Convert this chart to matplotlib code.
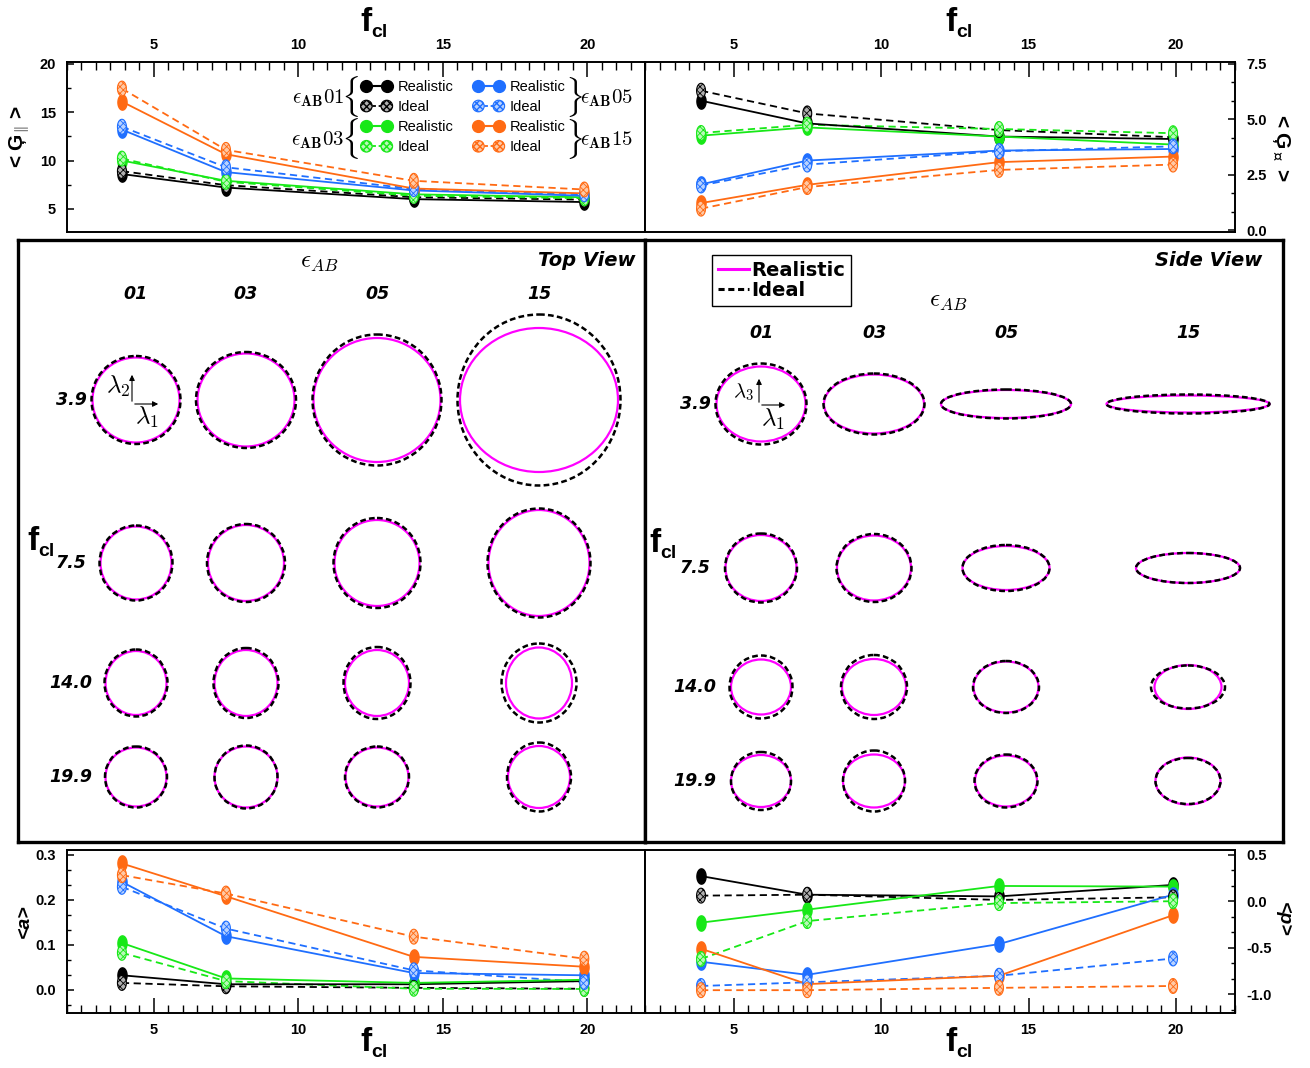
import numpy as np
import matplotlib

matplotlib.use("Agg")
import matplotlib.pyplot as plt
from matplotlib import font_manager
from matplotlib.legend_handler import HandlerTuple
from matplotlib.lines import Line2D
from matplotlib.patches import Ellipse, FancyArrowPatch
from matplotlib.path import Path
from matplotlib.ticker import AutoMinorLocator, MultipleLocator

FIG_W, FIG_H = 1310, 1068

_names = {f.name for f in font_manager.fontManager.ttflist}
NARROW = "Liberation Sans Narrow" in _names
SANS = "Liberation Sans Narrow" if NARROW else "Liberation Sans"

plt.rcParams["font.family"] = [SANS, "DejaVu Sans"]
plt.rcParams["font.weight"] = "bold"
plt.rcParams["mathtext.fontset"] = "cm"
plt.rcParams["axes.linewidth"] = 1.4

# ---- data -----------------------------------------------------------------
F_CL = [3.9, 7.5, 14.0, 19.9]
EPS_AB = ["01", "03", "05", "15"]
F_CL_LABELS = ["3.9", "7.5", "14.0", "19.9"]

# <G_par>, rows = eps_AB 01, 03, 05, 15
G_PAR_REAL = [[8.6, 7.2, 6.0, 5.7], [10.0, 7.9, 6.5, 6.2],
              [13.2, 8.8, 6.9, 6.35], [16.1, 10.65, 7.1, 6.6]]
G_PAR_IDEAL = [[8.9, 7.45, 6.2, 5.95], [10.2, 7.8, 6.35, 6.1],
               [13.5, 9.3, 7.05, 6.5], [17.45, 11.1, 7.9, 7.0]]
# <G_perp>
G_PERP_REAL = [[5.83, 4.81, 4.22, 4.11], [4.26, 4.63, 4.22, 3.86],
               [2.07, 3.14, 3.59, 3.66], [1.23, 2.05, 3.07, 3.32]]
G_PERP_IDEAL = [[6.28, 5.26, 4.51, 4.19], [4.38, 4.75, 4.56, 4.37],
                [2.02, 2.96, 3.56, 3.78], [0.98, 1.95, 2.72, 2.96]]
# <a>
A_REAL = [[0.032, 0.012, 0.012, 0.019], [0.104, 0.025, 0.015, 0.022],
          [0.24, 0.119, 0.037, 0.032], [0.281, 0.208, 0.073, 0.051]]
A_IDEAL = [[0.015, 0.0075, 0.004, 0.002], [0.082, 0.019, 0.002, 0.0015],
           [0.229, 0.136, 0.043, 0.017], [0.255, 0.214, 0.118, 0.069]]
# <p>
P_REAL = [[0.27, 0.07, 0.052, 0.175], [-0.23, -0.09, 0.164, 0.157],
          [-0.65, -0.79, -0.46, 0.07], [-0.51, -0.89, -0.80, -0.15]]
P_IDEAL = [[0.06, 0.07, 0.014, 0.042], [-0.62, -0.213, -0.02, 0.0],
           [-0.91, -0.87, -0.80, -0.615], [-0.955, -0.955, -0.93, -0.91]]

# ellipse axes (arbitrary units), rows = f_cl, cols = eps_AB
TOP_REAL_W = [[87, 97, 127, 158], [71, 76, 85, 101], [61, 63, 64, 66], [61, 63, 63, 62]]
TOP_REAL_H = [[85, 93, 124, 144], [73, 76, 86, 106], [64, 66, 66, 71], [59, 61, 59, 62]]
TOP_IDEAL_W = [[89, 100, 129, 163], [73, 78, 87, 103], [63, 65, 67, 75], [62, 63, 64, 64]]
TOP_IDEAL_H = [[88, 96, 131, 171], [75, 78, 90, 109], [67, 70, 72, 79], [61, 63, 61, 69]]

SIDE_REAL_W = [[89, 100, 130, 163], [71, 74, 87, 104], [60, 64, 65, 67], [60, 62, 62, 65]]
SIDE_REAL_H = [[75, 59, 28, 17], [66, 65, 44, 30], [55, 56, 51, 44], [52, 53, 51, 47]]
SIDE_IDEAL_W = [[91, 101, 130, 163], [72, 75, 87, 104], [63, 66, 66, 74], [60, 62, 63, 65]]
SIDE_IDEAL_H = [[81, 61, 29, 19], [69, 68, 46, 30], [63, 64, 52, 43], [58, 61, 53, 46]]

# ---- style / layout -------------------------------------------------------
COLORS = ["#000000", "#17e817", "#1f6fff", "#ff6a13"]
LIGHT = ["#b0b0b0", "#b8f8b8", "#b8d2ff", "#ffc9a6"]
MAGENTA = "#ff00ff"

TOP_COL_X = [136, 246, 377, 539]
TOP_ROW_Y = [400, 563, 683, 777]
SIDE_COL_X = [761, 874, 1006, 1188]
SIDE_ROW_Y = [404, 568, 687, 781]

_t = np.linspace(0, 2 * np.pi, 41)
ELL = Path(np.column_stack([0.6 * np.cos(_t), np.sin(_t)]), closed=True)
HATCH = "xxxxx"


def px(x, y):
    return x / FIG_W, 1 - y / FIG_H


def rect(x0, y0, x1, y1):
    return [x0 / FIG_W, 1 - y1 / FIG_H, (x1 - x0) / FIG_W, (y1 - y0) / FIG_H]


def fcl_label(fig, x, y, big=24, small=14):
    fig.text(*px(x, y), "f", fontsize=big, ha="right", va="baseline")
    fig.text(*px(x - 1, y + 6), "cl", fontsize=small, ha="left", va="baseline")


def draw_series(ax, real, ideal):
    for k, c in enumerate(COLORS):
        ax.plot(F_CL, ideal[k], color=c, lw=1.3, ls=(0, (4, 2.5)), zorder=2)
        ax.plot(F_CL, real[k], color=c, lw=1.3, marker=ELL, ms=11,
                mfc=c, mec=c, zorder=3)
        with plt.rc_context({"hatch.color": c, "hatch.linewidth": 0.6}):
            ax.scatter(F_CL, ideal[k], s=115, marker=ELL, facecolor=LIGHT[k],
                       edgecolor=c, linewidth=0.8, hatch=HATCH, zorder=4)


def style_axis(ax, ylim, ymajor, nminor, xtop, yright):
    ax.set_xlim(2, 22)
    ax.set_ylim(*ylim)
    ax.xaxis.set_major_locator(MultipleLocator(5))
    ax.xaxis.set_minor_locator(MultipleLocator(0.5))
    ax.yaxis.set_major_locator(MultipleLocator(ymajor))
    ax.yaxis.set_minor_locator(AutoMinorLocator(nminor))
    ax.tick_params(axis="x", which="major", direction="in", length=11, width=1.1,
                   labelsize=10.5, pad=7, top=xtop, bottom=not xtop,
                   labeltop=xtop, labelbottom=not xtop)
    ax.tick_params(axis="x", which="minor", direction="in", length=5.5, width=1.0,
                   top=xtop, bottom=not xtop)
    ax.tick_params(axis="y", which="major", direction="in", length=5, width=1.1,
                   labelsize=10.5, pad=8, left=not yright, right=yright,
                   labelleft=not yright, labelright=yright)
    ax.tick_params(axis="y", which="minor", direction="in", length=3, width=1.0,
                   left=not yright, right=yright)


def draw_view(ax, x0, y0, x1, y1, cols, rows, rw, rh, iw, ih):
    ax.set_xlim(x0, x1)
    ax.set_ylim(y1, y0)
    ax.set_xticks([])
    ax.set_yticks([])
    for s in ax.spines.values():
        s.set_linewidth(2.4)
    for i, cy in enumerate(rows):
        for j, cx in enumerate(cols):
            ax.add_patch(Ellipse((cx, cy), rw[i][j], rh[i][j], fill=False,
                                 ec=MAGENTA, lw=1.6, zorder=2))
            ax.add_patch(Ellipse((cx, cy), iw[i][j], ih[i][j], fill=False,
                                 ec="black", lw=1.8, ls=(0, (2.3, 1.3)), zorder=3))


def arrows(ax, cx, cy, up, right):
    for end in [(cx, cy - up), (cx + right, cy)]:
        ax.add_patch(FancyArrowPatch((cx, cy), end, arrowstyle="-|>",
                                     mutation_scale=8, lw=0.8, color="black", zorder=5))


fig = plt.figure(figsize=(FIG_W / 100, FIG_H / 100), dpi=100)

# ---- top panels -----------------------------------------------------------
ax_gpar = fig.add_axes(rect(67, 62, 645, 232))
draw_series(ax_gpar, G_PAR_REAL, G_PAR_IDEAL)
style_axis(ax_gpar, (2.6, 20.2), 5, 2, True, False)

ax_gperp = fig.add_axes(rect(645, 62, 1235, 232))
draw_series(ax_gperp, G_PERP_REAL, G_PERP_IDEAL)
style_axis(ax_gperp, (-0.07, 7.57), 2.5, 3, True, True)
ax_gperp.yaxis.set_major_formatter(lambda v, p: f"{v:.1f}")

# ---- bottom panels --------------------------------------------------------
ax_a = fig.add_axes(rect(67, 850, 645, 1013))
draw_series(ax_a, A_REAL, A_IDEAL)
style_axis(ax_a, (-0.052, 0.311), 0.1, 3, False, False)
ax_a.yaxis.set_major_formatter(lambda v, p: f"{v:.1f}")

ax_p = fig.add_axes(rect(645, 850, 1235, 1013))
draw_series(ax_p, P_REAL, P_IDEAL)
style_axis(ax_p, (-1.2, 0.55), 0.5, 3, False, True)
ax_p.yaxis.set_major_formatter(lambda v, p: f"{v:.1f}")

# legend of the top-left panel
handles, labels = [], []
for k, c in enumerate(COLORS):
    handles.append(Line2D([], [], color=c, lw=1.5, marker="o", ms=8.5, mfc=c, mec=c))
    labels.append("Realistic")
    dash = Line2D([], [], color=c, lw=1.3, ls=(0, (2, 1.5)))
    with plt.rc_context({"hatch.color": c, "hatch.linewidth": 0.6}):
        sc = ax_gpar.scatter([], [], s=70, marker="o", facecolor=LIGHT[k],
                             edgecolor=c, linewidth=0.8, hatch=HATCH)
    handles.append((dash, sc))
    labels.append("Ideal")
fig.legend(handles, labels, ncol=2, loc="upper left", bbox_to_anchor=px(362, 80),
           frameon=False, prop={"family": SANS, "weight": "normal",
                                "size": 11.5 if NARROW else 10.5},
           handlelength=2.0, handletextpad=0.45, columnspacing=1.4,
           labelspacing=0.42, borderpad=0, borderaxespad=0, numpoints=2,
           scatterpoints=2, scatteryoffsets=[0.5],
           handler_map={tuple: HandlerTuple(ndivide=1, pad=0)})

for (y, eps) in [(98, "01"), (140, "03")]:
    fig.text(*px(344, y), r"$\epsilon_{\mathbf{AB}}\mathbf{" + eps + "}$",
             fontsize=15, ha="right", va="center")
    fig.text(*px(350, y - 1), r"$\{$", fontsize=24, ha="center", va="center")
for (y, eps) in [(98, "05"), (140, "15")]:
    fig.text(*px(574, y - 1), r"$\}$", fontsize=24, ha="center", va="center")
    fig.text(*px(580, y), r"$\epsilon_{\mathbf{AB}}\mathbf{" + eps + "}$",
             fontsize=15, ha="left", va="center")

# axis titles
fcl_label(fig, 372, 31)
fcl_label(fig, 957, 31)
fcl_label(fig, 372, 1051)
fcl_label(fig, 957, 1051)
fig.text(*px(20, 137), r"< Ģ$_{\Vert}$ >", fontsize=15, rotation=90,
         ha="center", va="center")
fig.text(*px(1281, 148), r"< Ģ$_{\perp}$ >", fontsize=15, rotation=270,
         ha="center", va="center")
fig.text(*px(24, 921), "<a>", fontsize=14, style="italic", rotation=90,
         ha="center", va="center")
fig.text(*px(1283, 919), "<p>", fontsize=14, style="italic", rotation=270,
         ha="center", va="center")

# ---- middle boxes ---------------------------------------------------------
ax_tv = fig.add_axes(rect(18, 240, 645, 842))
draw_view(ax_tv, 18, 240, 645, 842, TOP_COL_X, TOP_ROW_Y,
          TOP_REAL_W, TOP_REAL_H, TOP_IDEAL_W, TOP_IDEAL_H)
ax_sv = fig.add_axes(rect(645, 240, 1283, 842))
draw_view(ax_sv, 645, 240, 1283, 842, SIDE_COL_X, SIDE_ROW_Y,
          SIDE_REAL_W, SIDE_REAL_H, SIDE_IDEAL_W, SIDE_IDEAL_H)

arrows(ax_tv, TOP_COL_X[0] - 4, TOP_ROW_Y[0] + 4, 32, 29)
ax_tv.text(TOP_COL_X[0] - 18, TOP_ROW_Y[0] - 14, r"$\lambda_2$", fontsize=18,
           ha="center", va="center")
ax_tv.text(TOP_COL_X[0] + 11, TOP_ROW_Y[0] + 17, r"$\lambda_1$", fontsize=18,
           ha="center", va="center")
arrows(ax_sv, SIDE_COL_X[0] - 2, SIDE_ROW_Y[0] + 1, 29, 29)
ax_sv.text(SIDE_COL_X[0] - 18, SIDE_ROW_Y[0] - 12, r"$\lambda_3$", fontsize=15,
           ha="center", va="center")
ax_sv.text(SIDE_COL_X[0] + 12, SIDE_ROW_Y[0] + 15, r"$\mathbf{\lambda_1}$",
           fontsize=18, ha="center", va="center")

VIEW_FONT = dict(family="DejaVu Sans", weight="bold", style="italic")
for ax, cols, col_y, rows, row_x, eps_xy, title_x, title in [
    (ax_tv, TOP_COL_X, 294, TOP_ROW_Y, 71, (319, 262), 635, "Top View"),
    (ax_sv, SIDE_COL_X, 333, SIDE_ROW_Y, 695, (948, 301), 1262, "Side View"),
]:
    ax.text(*eps_xy, r"$\epsilon_{AB}$", fontsize=18, ha="center", va="center")
    ax.text(title_x, 260, title, fontsize=14, ha="right", va="center", **VIEW_FONT)
    for cx, lab in zip(cols, EPS_AB):
        ax.text(cx, col_y, lab, fontsize=12.5, ha="center", va="center", **VIEW_FONT)
    for cy, lab in zip(rows, F_CL_LABELS):
        ax.text(row_x, cy, lab, fontsize=12.5, ha="center", va="center", **VIEW_FONT)

fcl_label(fig, 39, 550)
fcl_label(fig, 661, 552)

view_handles = [Line2D([], [], color=MAGENTA, lw=2.2),
                Line2D([], [], color="black", lw=2.2, ls=(0, (2, 1.2)))]
ax_sv.legend(view_handles, ["Realistic", "Ideal"], loc="upper left",
             bbox_to_anchor=(67 / 638, 1 - 15 / 602),
             prop={"family": "DejaVu Sans", "weight": "bold", "size": 14},
             handlelength=1.6, handletextpad=0.1, labelspacing=0.05,
             borderpad=0.3, borderaxespad=0, fancybox=False,
             edgecolor="black", framealpha=1)
ax_sv.get_legend().get_frame().set_linewidth(1.0)

fig.savefig("out.png", dpi=100)
